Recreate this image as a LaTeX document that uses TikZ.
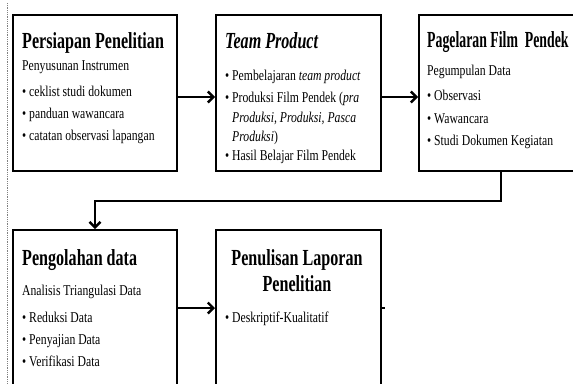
\documentclass[tikz,border=0pt]{standalone}
\usepackage{fontspec}
\setmainfont[FakeStretch=0.78]{Liberation Serif}
\newfontfamily\hdfont[FakeStretch=0.7]{Liberation Serif}
\newfontfamily\hdnarrow[FakeStretch=0.6]{Liberation Serif}
\usetikzlibrary{arrows.meta}
\tikzset{
  box/.style={draw, line width=1.9pt, rectangle, inner sep=0pt, anchor=north west},
  hd/.style={font=\hdfont\bfseries\fontsize{23}{26}\selectfont, anchor=base west, inner sep=0pt},
  tx/.style={font=\fontsize{15}{17}\selectfont, anchor=base west, inner sep=0pt},
  arr/.style={line width=2.8pt, -{Straight Barb[length=5.5pt,width=11pt,line width=2.4pt]}},
}
\begin{document}
\begin{tikzpicture}[x=1pt,y=-1pt]
\useasboundingbox (0,0) rectangle (573,383);
\clip (0,0) rectangle (573,383);
\fill[white] (0,0) rectangle (573,383);
\draw[gray, densely dotted, line width=0.8pt] (7,3) -- (7,383);
% boxes
\node[box, minimum width=164pt, minimum height=156pt] (b1) at (12,14) {};
\node[box, minimum width=165pt, minimum height=156pt] (b2) at (215,14) {};
\node[box, minimum width=200pt, minimum height=156pt] (b3) at (418,14) {};
\node[box, minimum width=164pt, minimum height=180pt] (b4) at (12,229) {};
\node[box, minimum width=165pt, minimum height=180pt] (b5) at (215,229) {};
% box 1
\node[hd] (t1a) at (22,48) {Persiapan Penelitian};
\node[tx] (t1b) at (22,70) {Penyusunan Instrumen};
\node[tx] (t1c) at (22,96) {• ceklist studi dokumen};
\node[tx] (t1d) at (22,118) {• panduan wawancara};
\node[tx] (t1e) at (22,140) {• catatan observasi lapangan};
% box 2
\node[hd] (t2a) at (225,48) {\itshape Team Product};
\node[tx] (t2b) at (225,80) {• Pembelajaran \textit{team product}};
\node[tx] (t2c) at (225,102) {• Produksi Film Pendek (\textit{pra}};
\node[tx] (t2d) at (232,122) {\textit{Produksi, Produksi, Pasca}};
\node[tx] (t2e) at (232,141) {\textit{Produksi})};
\node[tx] (t2f) at (225,160) {• Hasil Belajar Film Pendek};
% box 3
\node[hd, font=\hdnarrow\bfseries\fontsize{23}{26}\selectfont] (t3a) at (427,47) {Pagelaran Film \ Pendek};
\node[tx] (t3b) at (427,75) {Pegumpulan Data};
\node[tx] (t3c) at (427,100) {• Observasi};
\node[tx] (t3d) at (427,123) {• Wawancara};
\node[tx] (t3e) at (427,145) {• Studi Dokumen Kegiatan};
% box 4
\node[hd] (t4a) at (22,265) {Pengolahan data};
\node[tx] (t4b) at (22,295) {Analisis Triangulasi Data};
\node[tx] (t4c) at (22,322) {• Reduksi Data};
\node[tx] (t4d) at (22,344) {• Penyajian Data};
\node[tx] (t4e) at (22,366) {• Verifikasi Data};
% box 5
\node[hd, anchor=base] (t5a) at (297,265) {Penulisan Laporan};
\node[hd, anchor=base] (t5b) at (297,291) {Penelitian};
\node[tx] (t5c) at (225,322) {• Deskriptif-Kualitatif};
% connectors
\coordinate (m1) at (0,97);
\coordinate (m2) at (0,308);
\coordinate (k1) at (501,201);
\coordinate (k2) at (95,201);
\draw[arr] (b1.east |- m1) -- (b2.west |- m1);
\draw[arr] (b2.east |- m1) -- (b3.west |- m1);
\draw[arr] (b3.south -| k1) -- (k1) -- (k2) -- (b4.north -| k2);
\draw[arr] (b4.east |- m2) -- (b5.west |- m2);
\draw[line width=2.4pt] (b5.east |- m2) -- ++(3,0);
\end{tikzpicture}
\end{document}
